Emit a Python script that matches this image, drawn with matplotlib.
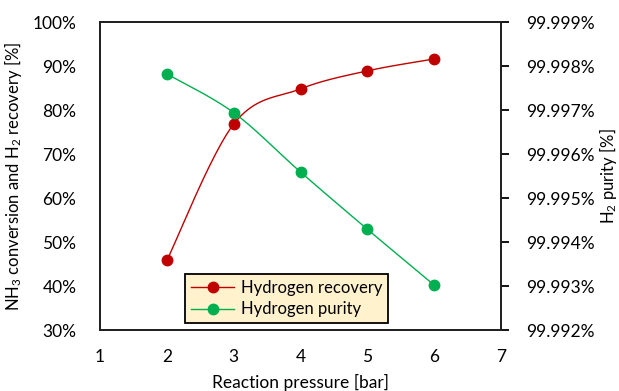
import numpy as np
import matplotlib
matplotlib.use("Agg")
import matplotlib.pyplot as plt
from matplotlib.ticker import FuncFormatter

plt.rcParams['font.family'] = ['Lato', 'DejaVu Sans']
plt.rcParams['mathtext.fontset'] = 'custom'
plt.rcParams['mathtext.rm'] = 'Lato'
plt.rcParams['mathtext.it'] = 'Lato'

# data
pressure = [2, 3, 4, 5, 6]
h2_recovery = [45.8, 76.8, 84.8, 88.9, 91.6]          # %
h2_purity = [99.99782, 99.99694, 99.99559, 99.99429, 99.99302]  # %

red = '#C00000'
green = '#00B050'


def smooth(x, y, n=40):
    # Catmull-Rom curve through the points (like Excel's smoothed line)
    p = np.column_stack([x, y]).astype(float)
    p = np.vstack([p[0], p, p[-1]])
    out = []
    t = np.linspace(0, 1, n)[:, None]
    for i in range(1, len(p) - 2):
        p0, p1, p2, p3 = p[i - 1], p[i], p[i + 1], p[i + 2]
        seg = 0.5 * ((2 * p1) + (-p0 + p2) * t + (2 * p0 - 5 * p1 + 4 * p2 - p3) * t ** 2
                     + (-p0 + 3 * p1 - 3 * p2 + p3) * t ** 3)
        out.append(seg)
    out = np.vstack(out)
    return out[:, 0], out[:, 1]


fig = plt.figure(figsize=(6.19, 3.91), dpi=100)
ax = fig.add_axes([0.1616, 0.156, 0.6478, 0.7877])
ax2 = ax.twinx()

sx, sy = smooth(pressure, h2_recovery)
ax.plot(sx, sy, color=red, lw=1.0, zorder=2)
ax.plot(pressure, h2_recovery, 'o', color=red, ms=7.5, zorder=3)

gx, gy = smooth(pressure, h2_purity)
ax2.plot(gx, gy, color=green, lw=1.0, zorder=2)
ax2.plot(pressure, h2_purity, 'o', color=green, ms=7.5, zorder=3)

ax.set_xlim(1, 7)
ax.set_ylim(30, 100)
ax2.set_ylim(99.992, 99.999)
ax.set_xticks(range(1, 8))
ax.set_yticks(range(30, 101, 10))
ax2.set_yticks(np.linspace(99.992, 99.999, 8))
ax.yaxis.set_major_formatter(FuncFormatter(lambda v, _: f'{v:.0f}%'))
ax2.yaxis.set_major_formatter(FuncFormatter(lambda v, _: f'{v:.3f}%'))

ax.tick_params(axis='x', length=0, pad=14, labelsize=12.5)
ax.tick_params(axis='y', length=0, pad=17, labelsize=12.5)
ax2.tick_params(axis='y', length=6, width=1.3, direction='out', pad=12, labelsize=12.5)

for a in (ax, ax2):
    for s in a.spines.values():
        s.set_linewidth(1.4)
        s.set_color('#222222')

ax.set_xlabel('Reaction pressure [bar]', fontsize=12.5, labelpad=6)
ax.set_ylabel('NH$_3$ conversion and H$_2$ recovery [%]', fontsize=12, labelpad=6)
ax2.set_ylabel('H$_2$ purity [%]', fontsize=12, labelpad=2)

h1, = ax.plot([], [], '-o', color=red, lw=1.0, ms=7.5)
h2, = ax.plot([], [], '-o', color=green, lw=1.0, ms=7.5)
leg = ax2.legend([h1, h2], ['Hydrogen recovery', 'Hydrogen purity'],
                 loc='lower left', bbox_to_anchor=(0.212, 0.022), fontsize=12,
                 frameon=True, fancybox=False, handlelength=2.6, handletextpad=0.4,
                 borderpad=0.35, labelspacing=0.35, borderaxespad=0)
leg.get_frame().set_facecolor('#FFF2CC')
leg.get_frame().set_edgecolor('black')
leg.get_frame().set_linewidth(1.3)
leg.get_frame().set_alpha(1)

fig.savefig('out.png', dpi=100)
